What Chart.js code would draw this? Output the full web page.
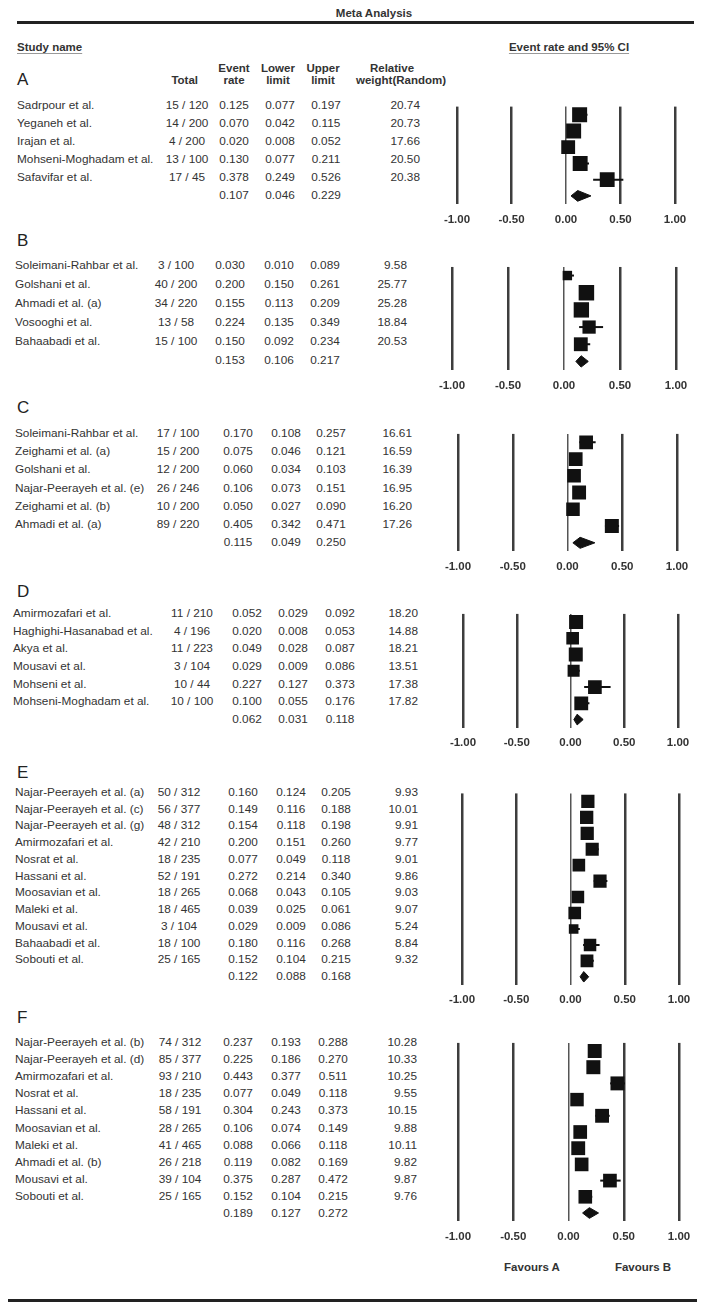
<!DOCTYPE html>
<html>
<head>
<meta charset="utf-8">
<script src="https://cdn.jsdelivr.net/npm/chart.js@4.4.1/dist/chart.umd.min.js"></script>
<style>
  body { margin: 0; background: #fff; }
  #page { position: relative; width: 705px; height: 1305px; overflow: hidden;
          font-family: 'Liberation Sans', Arial, sans-serif; color: #333; }
  .t { position: absolute; white-space: nowrap; font-size: 11.8px; line-height: 14px; }
  .b { font-weight: bold; font-size: 11.5px; }
  .u { text-decoration: underline; text-decoration-color: #999; text-underline-offset: 2px; }
  .letter { font-size: 17px; color: #222; }
  .rule { position: absolute; background: #222; }
  canvas { position: absolute; }
</style>
</head>
<body>
<div id="page"></div>
<script>
// --- data ---
const xTicks = [-1, -0.5, 0, 0.5, 1];

const studiesA = ['Sadrpour et al.', 'Yeganeh et al.', 'Irajan et al.', 'Mohseni-Moghadam et al.', 'Safavifar et al.'];
const totalsA = ['15 / 120', '14 / 200', '4 / 200', '13 / 100', '17 / 45'];
const ratesA = [0.125, 0.070, 0.020, 0.130, 0.378];
const lowerA = [0.077, 0.042, 0.008, 0.077, 0.249];
const upperA = [0.197, 0.115, 0.052, 0.211, 0.526];
const weightA = [20.74, 20.73, 17.66, 20.50, 20.38];
const pooledA = [0.107, 0.046, 0.229];

const studiesB = ['Soleimani-Rahbar et al.', 'Golshani et al.', 'Ahmadi et al. (a)', 'Vosooghi et al.', 'Bahaabadi et al.'];
const totalsB = ['3 / 100', '40 / 200', '34 / 220', '13 / 58', '15 / 100'];
const ratesB = [0.030, 0.200, 0.155, 0.224, 0.150];
const lowerB = [0.010, 0.150, 0.113, 0.135, 0.092];
const upperB = [0.089, 0.261, 0.209, 0.349, 0.234];
const weightB = [9.58, 25.77, 25.28, 18.84, 20.53];
const pooledB = [0.153, 0.106, 0.217];

const studiesC = ['Soleimani-Rahbar et al.', 'Zeighami et al. (a)', 'Golshani et al.', 'Najar-Peerayeh et al. (e)', 'Zeighami et al. (b)', 'Ahmadi et al. (a)'];
const totalsC = ['17 / 100', '15 / 200', '12 / 200', '26 / 246', '10 / 200', '89 / 220'];
const ratesC = [0.170, 0.075, 0.060, 0.106, 0.050, 0.405];
const lowerC = [0.108, 0.046, 0.034, 0.073, 0.027, 0.342];
const upperC = [0.257, 0.121, 0.103, 0.151, 0.090, 0.471];
const weightC = [16.61, 16.59, 16.39, 16.95, 16.20, 17.26];
const pooledC = [0.115, 0.049, 0.250];

const studiesD = ['Amirmozafari et al.', 'Haghighi-Hasanabad et al.', 'Akya et al.', 'Mousavi et al.', 'Mohseni et al.', 'Mohseni-Moghadam et al.'];
const totalsD = ['11 / 210', '4 / 196', '11 / 223', '3 / 104', '10 / 44', '10 / 100'];
const ratesD = [0.052, 0.020, 0.049, 0.029, 0.227, 0.100];
const lowerD = [0.029, 0.008, 0.028, 0.009, 0.127, 0.055];
const upperD = [0.092, 0.053, 0.087, 0.086, 0.373, 0.176];
const weightD = [18.20, 14.88, 18.21, 13.51, 17.38, 17.82];
const pooledD = [0.062, 0.031, 0.118];

const studiesE = ['Najar-Peerayeh et al. (a)', 'Najar-Peerayeh et al. (c)', 'Najar-Peerayeh et al. (g)', 'Amirmozafari et al.', 'Nosrat et al.', 'Hassani et al.', 'Moosavian et al.', 'Maleki et al.', 'Mousavi et al.', 'Bahaabadi et al.', 'Sobouti et al.'];
const totalsE = ['50 / 312', '56 / 377', '48 / 312', '42 / 210', '18 / 235', '52 / 191', '18 / 265', '18 / 465', '3 / 104', '18 / 100', '25 / 165'];
const ratesE = [0.160, 0.149, 0.154, 0.200, 0.077, 0.272, 0.068, 0.039, 0.029, 0.180, 0.152];
const lowerE = [0.124, 0.116, 0.118, 0.151, 0.049, 0.214, 0.043, 0.025, 0.009, 0.116, 0.104];
const upperE = [0.205, 0.188, 0.198, 0.260, 0.118, 0.340, 0.105, 0.061, 0.086, 0.268, 0.215];
const weightE = [9.93, 10.01, 9.91, 9.77, 9.01, 9.86, 9.03, 9.07, 5.24, 8.84, 9.32];
const pooledE = [0.122, 0.088, 0.168];

const studiesF = ['Najar-Peerayeh et al. (b)', 'Najar-Peerayeh et al. (d)', 'Amirmozafari et al.', 'Nosrat et al.', 'Hassani et al.', 'Moosavian et al.', 'Maleki et al.', 'Ahmadi et al. (b)', 'Mousavi et al.', 'Sobouti et al.'];
const totalsF = ['74 / 312', '85 / 377', '93 / 210', '18 / 235', '58 / 191', '28 / 265', '41 / 465', '26 / 218', '39 / 104', '25 / 165'];
const ratesF = [0.237, 0.225, 0.443, 0.077, 0.304, 0.106, 0.088, 0.119, 0.375, 0.152];
const lowerF = [0.193, 0.186, 0.377, 0.049, 0.243, 0.074, 0.066, 0.082, 0.287, 0.104];
const upperF = [0.288, 0.270, 0.511, 0.118, 0.373, 0.149, 0.118, 0.169, 0.472, 0.215];
const weightF = [10.28, 10.33, 10.25, 9.55, 10.15, 9.88, 10.11, 9.82, 9.87, 9.76];
const pooledF = [0.189, 0.127, 0.272];

// --- layout of each block (pixels) ---
// first = y of first row, step = row pitch, xl/xr = pixel of -1 / +1, sq = largest square side
// cols = name left, total centre, rate, lower, upper centres, weight right
const panels = [
  { letter: 'A', letterY: 80,   first: 105,  step: 18.0,  xl: 457, xr: 675, sq: 15,   cols: [17, 187, 234, 280, 326, 420],
    studies: studiesA, totals: totalsA, rates: ratesA, lower: lowerA, upper: upperA, weight: weightA, pooled: pooledA },
  { letter: 'B', letterY: 241,  first: 265,  step: 19.0,  xl: 452, xr: 676, sq: 15.5, cols: [15, 176, 230, 279, 325, 407],
    studies: studiesB, totals: totalsB, rates: ratesB, lower: lowerB, upper: upperB, weight: weightB, pooled: pooledB },
  { letter: 'C', letterY: 408,  first: 433,  step: 18.17, xl: 458, xr: 677, sq: 14,   cols: [15, 178, 238, 286, 331, 412],
    studies: studiesC, totals: totalsC, rates: ratesC, lower: lowerC, upper: upperC, weight: weightC, pooled: pooledC },
  { letter: 'D', letterY: 592,  first: 613,  step: 17.67, xl: 463, xr: 678, sq: 14,   cols: [13, 192, 247, 293, 340, 418],
    studies: studiesD, totals: totalsD, rates: ratesD, lower: lowerD, upper: upperD, weight: weightD, pooled: pooledD },
  { letter: 'E', letterY: 773,  first: 792,  step: 16.73, xl: 462, xr: 679, sq: 13.3, cols: [15, 179, 243, 291, 336, 418],
    studies: studiesE, totals: totalsE, rates: ratesE, lower: lowerE, upper: upperE, weight: weightE, pooled: pooledE },
  { letter: 'F', letterY: 1018, first: 1042, step: 17.1,  xl: 458, xr: 679, sq: 14,   cols: [15, 180, 238, 286, 333, 417],
    studies: studiesF, totals: totalsF, rates: ratesF, lower: lowerF, upper: upperF, weight: weightF, pooled: pooledF }
];

const page = document.getElementById('page');
const FONT = "'Liberation Sans', Arial, sans-serif";

function txt(str, x, y, align, cls) {
  const d = document.createElement('div');
  d.className = 't ' + (cls || '');
  d.textContent = str;
  d.style.left = x + 'px';
  d.style.top = y + 'px';
  const tx = align === 'center' ? '-50%' : align === 'right' ? '-100%' : '0';
  d.style.transform = `translate(${tx}, -50%)`;
  page.appendChild(d);
}
function rule(x, y, w, h) {
  const d = document.createElement('div');
  d.className = 'rule';
  Object.assign(d.style, { left: x + 'px', top: y + 'px', width: w + 'px', height: h + 'px' });
  page.appendChild(d);
}

// --- headings ---
txt('Meta Analysis', 374, 13, 'center', 'b');
rule(17, 21, 677, 3);
txt('Study name', 17, 47, 'left', 'b u');
txt('Event rate and 95% CI', 569, 47, 'center', 'b u');
txt('Event', 234, 68, 'center', 'b');
txt('Lower', 278, 68, 'center', 'b');
txt('Upper', 323, 68, 'center', 'b');
txt('Relative', 392, 68, 'center', 'b');
txt('Total', 198, 80, 'right', 'b');
txt('rate', 234, 80, 'center', 'b');
txt('limit', 278, 80, 'center', 'b');
txt('limit', 323, 80, 'center', 'b');
txt('weight(Random)', 401, 80, 'center', 'b');
txt('Favours A', 532, 1267, 'center', 'b');
txt('Favours B', 643, 1267, 'center', 'b');
rule(8, 1299, 689, 3);

// --- one chart per block ---
const CANVAS_LEFT = 420, CANVAS_W = 285, TICK_PAD = 8.5, EXTRA = 36;

panels.forEach(p => {
  const n = p.studies.length;
  txt(p.letter, 17, p.letterY, 'left', 'letter');

  p.studies.forEach((s, i) => {
    const y = p.first + i * p.step;
    txt(s, p.cols[0], y, 'left');
    txt(p.totals[i], p.cols[1], y, 'center');
    txt(p.rates[i].toFixed(3), p.cols[2], y, 'center');
    txt(p.lower[i].toFixed(3), p.cols[3], y, 'center');
    txt(p.upper[i].toFixed(3), p.cols[4], y, 'center');
    txt(p.weight[i].toFixed(2), p.cols[5], y, 'right');
  });
  const yp = p.first + n * p.step;
  txt(p.pooled[0].toFixed(3), p.cols[2], yp, 'center');
  txt(p.pooled[1].toFixed(3), p.cols[3], yp, 'center');
  txt(p.pooled[2].toFixed(3), p.cols[4], yp, 'center');

  const gridTop = p.first - p.step / 2;
  const gridH = (n + 1) * p.step;
  const canvas = document.createElement('canvas');
  canvas.width = CANVAS_W;
  canvas.height = Math.round(gridH + EXTRA);
  canvas.style.left = CANVAS_LEFT + 'px';
  canvas.style.top = gridTop + 'px';
  page.appendChild(canvas);

  const axisH = 11.5 * 1.2 + 2 * TICK_PAD;
  const maxW = Math.max(...p.weight);

  const datasets = [];
  // study squares
  datasets.push({
    data: p.rates.map((r, i) => ({ x: r, y: i })),
    pointStyle: 'rect',
    pointRadius: p.weight.map(w => p.sq * Math.sqrt(w / maxW) / Math.SQRT2),
    backgroundColor: '#111', borderWidth: 0, order: 0
  });
  // pooled diamond: upper half filled down to the lower half
  const h = 0.33;
  datasets.push({
    data: [{ x: p.pooled[1], y: n }, { x: p.pooled[0], y: n - h }, { x: p.pooled[2], y: n }],
    showLine: true, fill: '+1', backgroundColor: '#111', borderColor: '#111', borderWidth: 1,
    pointRadius: 0, order: 1
  });
  datasets.push({
    data: [{ x: p.pooled[1], y: n }, { x: p.pooled[0], y: n + h }, { x: p.pooled[2], y: n }],
    showLine: true, fill: false, borderColor: '#111', borderWidth: 1, pointRadius: 0, order: 1
  });
  // confidence intervals
  p.rates.forEach((r, i) => {
    datasets.push({
      data: [{ x: p.lower[i], y: i }, { x: p.upper[i], y: i }],
      showLine: true, borderColor: '#111', borderWidth: 2, pointRadius: 0, order: 2
    });
  });

  new Chart(canvas, {
    type: 'scatter',
    data: { datasets },
    options: {
      responsive: false,
      animation: false,
      events: [],
      layout: {
        padding: {
          left: p.xl - CANVAS_LEFT,
          right: CANVAS_LEFT + CANVAS_W - p.xr,
          top: 0,
          bottom: canvas.height - gridH - axisH
        }
      },
      plugins: { legend: { display: false }, tooltip: { enabled: false } },
      scales: {
        x: {
          type: 'linear', min: -1, max: 1,
          afterBuildTicks: s => { s.ticks = xTicks.map(v => ({ value: v })); },
          ticks: {
            callback: v => Number(v).toFixed(2),
            font: { family: FONT, size: 11.5, weight: 'bold' },
            color: '#333', padding: TICK_PAD, maxRotation: 0, autoSkip: false
          },
          grid: {
            drawTicks: false,
            color: c => (c.tick && c.tick.value === 0 ? '#555' : '#3d3d3d'),
            lineWidth: c => (c.tick && c.tick.value === 0 ? 1.5 : 2.5)
          },
          border: { display: false }
        },
        y: {
          type: 'linear', reverse: true, min: -0.5, max: n + 0.5,
          display: false
        }
      }
    }
  });
});
</script>
</body>
</html>
